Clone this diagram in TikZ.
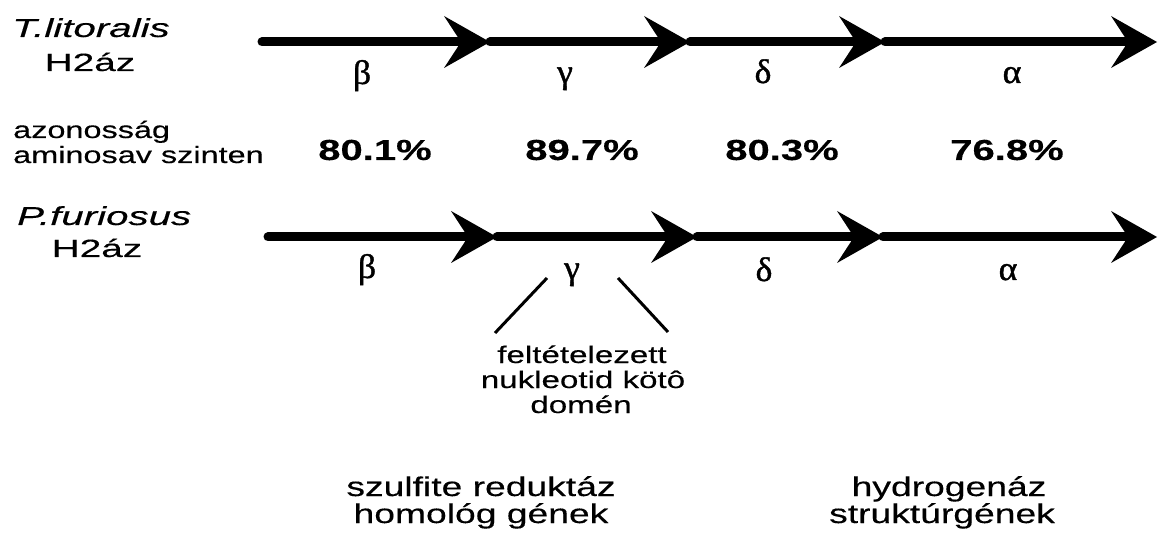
\documentclass[tikz,border=0pt]{standalone}
\usepackage{fontspec}
\setmainfont{Liberation Sans}
% widened, slightly heavier faces for the labels
\newfontfamily\labfont[FakeStretch=1.38,FakeBold=0.3]{Liberation Sans}
\newfontfamily\spcfont[FakeStretch=1.55,FakeBold=0.3]{Liberation Sans}
\newfontfamily\grkfont[FakeStretch=1.05,FakeBold=1.2]{Liberation Serif}
\usetikzlibrary{arrows.meta}

\begin{document}
\begin{tikzpicture}[x=1pt,y=-1pt,
  gene/.style={line width=9pt, line cap=round,
    -{Stealth[length=46pt,width=52pt,inset=17pt,line width=0pt]}},
  species/.style={font=\spcfont\fontsize{26}{30}\selectfont\itshape, anchor=base west, inner sep=0pt},
  enzyme/.style={font=\spcfont\fontsize{25}{29}\selectfont, anchor=base, inner sep=0pt},
  subunit/.style={font=\grkfont\fontsize{34}{38}\selectfont, anchor=base, inner sep=0pt},
  ident/.style={font=\labfont\fontsize{23.5}{28}\selectfont, anchor=base west, inner sep=0pt},
  pct/.style={font=\labfont\fontsize{29}{34}\selectfont\bfseries, anchor=base, inner sep=0pt},
  note/.style={font=\labfont\fontsize{24}{29}\selectfont, anchor=base, inner sep=0pt},
  group/.style={font=\labfont\fontsize{27}{32}\selectfont, anchor=base, inner sep=0pt},
  tick/.style={line width=3pt}]
\useasboundingbox[fill=white] (0,0) rectangle (1158,534);

% T. litoralis operon
\coordinate (t0) at (262,42);
\coordinate (t1) at (490,42);
\coordinate (t2) at (690,42);
\coordinate (t3) at (885,42);
\coordinate (t4) at (1157,42);
\draw[gene] (t0) -- (t1);
\draw[gene] (t1) -- (t2);
\draw[gene] (t2) -- (t3);
\draw[gene] (t3) -- (t4);

% P. furiosus operon
\coordinate (p0) at (268,237);
\coordinate (p1) at (497,237);
\coordinate (p2) at (697,237);
\coordinate (p3) at (883,237);
\coordinate (p4) at (1157,237);
\draw[gene] (p0) -- (p1);
\draw[gene] (p1) -- (p2);
\draw[gene] (p2) -- (p3);
\draw[gene] (p3) -- (p4);

% organism labels
\node[species] (tl) at (12,37) {T.litoralis};
\node[enzyme] (th) at (90,71) {H2áz};
\node[species] (pf) at (17,225) {P.furiosus};
\node[enzyme] (ph) at (97,257) {H2áz};

% subunits
\node[subunit] (tb) at (362,84) {β};
\node[subunit] (tg) at (565,83) {γ};
\node[subunit] (td) at (763,83) {δ};
\node[subunit] (ta) at (1012,83) {α};
\node[subunit] (pb) at (367,278) {β};
\node[subunit] (pg) at (572,279) {γ};
\node[subunit] (pd) at (764,281) {δ};
\node[subunit] (pa) at (1008,280) {α};

% identity row
\node[ident] (id1) at (13,138) {azonosság};
\node[ident] (id2) at (13,163) {aminosav szinten};
\node[pct] (q1) at (375,160) {80.1\%};
\node[pct] (q2) at (582,160) {89.7\%};
\node[pct] (q3) at (782,160) {80.3\%};
\node[pct] (q4) at (1007,160) {76.8\%};

% nucleotide binding domain note
\node[note] (n1) at (582,363) {feltételezett};
\node[note] (n2) at (583,388) {nukleotid kötô};
\node[note] (n3) at (581,413) {domén};
\coordinate (l1a) at (547,278);
\coordinate (l1b) at (495,333);
\coordinate (l2a) at (618,278);
\coordinate (l2b) at (668,332);
\draw[tick] (l1a) -- (l1b);
\draw[tick] (l2a) -- (l2b);

% gene groups
\node[group] (g1) at (481,496) {szulfite reduktáz};
\node[group] (g2) at (481,523) {homológ gének};
\node[group] (g3) at (949,496) {hydrogenáz};
\node[group] (g4) at (942,523) {struktúrgének};
\end{tikzpicture}
\end{document}
